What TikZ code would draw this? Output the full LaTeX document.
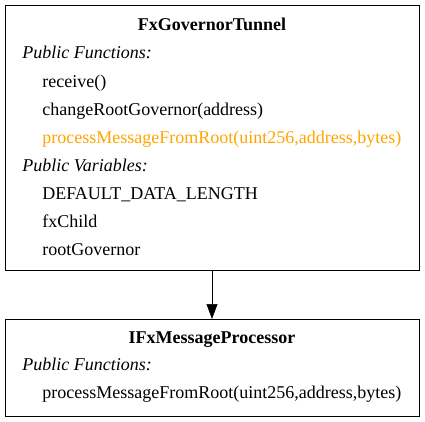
\documentclass[tikz,border=0pt]{standalone}
\usepackage{fontspec}
\setmainfont{Liberation Serif}
\usetikzlibrary{arrows.meta}
\definecolor{hot}{RGB}{255,165,0}
\begin{document}
\begin{tikzpicture}[x=1pt,y=-1pt,semithick,font=\fontsize{18}{20}\selectfont,
  box/.style={draw,thick,inner sep=0pt},
  txt/.style={anchor=base west,inner sep=0pt},
  head/.style={anchor=base,inner sep=0pt,font=\fontsize{18}{20}\selectfont\bfseries},
  sect/.style={txt,font=\fontsize{18}{20}\selectfont\itshape}]
\useasboundingbox (0,0) rectangle (425,421);
\draw[box] (5,5) rectangle (419,270);
\draw[box] (5,319) rectangle (419,416);
\coordinate (T) at (212,270);
\coordinate (B) at (212,319);
\node[head] (tunnel) at (212,30) {FxGovernorTunnel};
\node[sect] (tf) at (22,58) {Public Functions:};
\node[txt] (f1) at (42,87) {receive()};
\node[txt] (f2) at (42,115) {changeRootGovernor(address)};
\node[txt,text=hot] (f3) at (42,143) {processMessageFromRoot(uint256,address,bytes)};
\node[sect] (tv) at (22,171) {Public Variables:};
\node[txt] (v1) at (42,199) {DEFAULT\_DATA\_LENGTH};
\node[txt] (v2) at (42,227) {fxChild};
\node[txt] (v3) at (42,255) {rootGovernor};
\node[head] (proc) at (212,343) {IFxMessageProcessor};
\node[sect] (pf) at (22,370) {Public Functions:};
\node[txt] (p1) at (42,398) {processMessageFromRoot(uint256,address,bytes)};
\draw[-{Triangle[length=15pt,width=11pt]}] (T)--(B);
\end{tikzpicture}
\end{document}
